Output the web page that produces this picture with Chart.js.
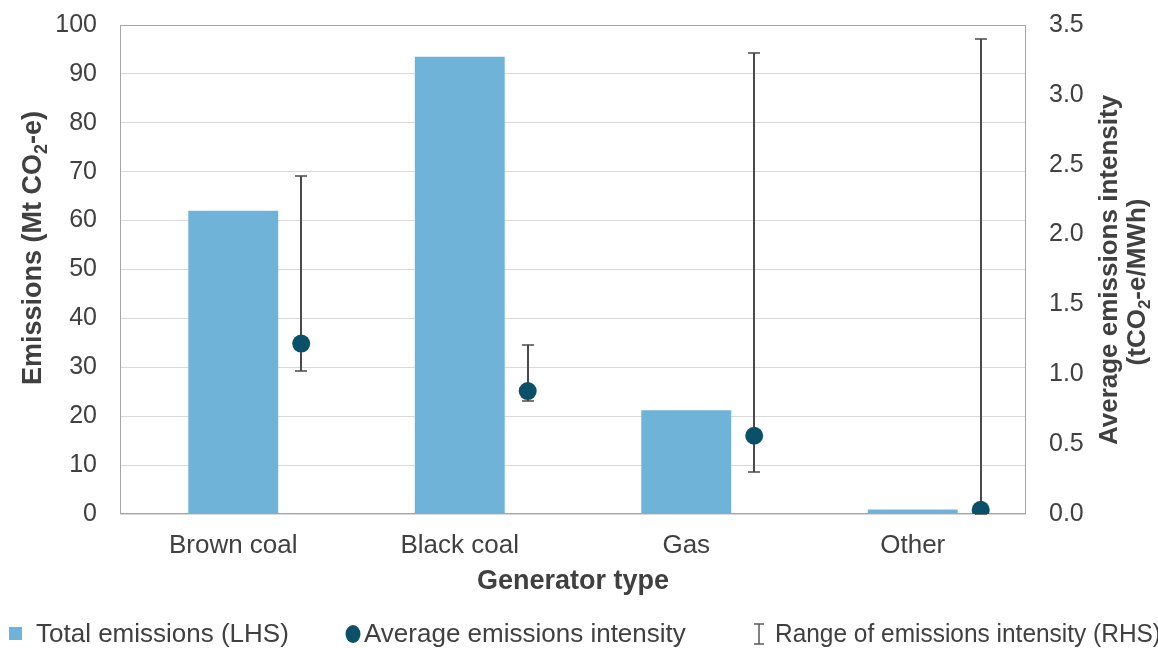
<!DOCTYPE html>
<html>
<head>
<meta charset="utf-8">
<script src="https://cdn.jsdelivr.net/npm/chart.js@4.4.0/dist/chart.umd.min.js"></script>
<style>
  html, body { margin: 0; padding: 0; background: #ffffff; }
  #wrap { width: 1158px; height: 648px; position: relative; }
</style>
</head>
<body>
<div id="wrap"><canvas id="chart" width="1158" height="648"></canvas></div>
<script>
// Generator categories and their values
const categories = ['Brown coal', 'Black coal', 'Gas', 'Other'];
const totalEmissions = [62.0, 93.5, 21.2, 0.9];      // Mt CO2-e, left axis
const avgIntensity = [1.22, 0.88, 0.56, 0.03];       // tCO2-e/MWh, right axis
const intensityLow = [1.02, 0.81, 0.30, 0.0];        // range minimum
const intensityHigh = [2.42, 1.21, 3.30, 3.40];      // range maximum

// Axis ranges
const leftAxis = { min: 0, max: 100, step: 10 };
const rightAxis = { min: 0, max: 3.5, step: 0.5 };

// Legend entries
const legendLabels = ['Total emissions (LHS)', 'Average emissions intensity', 'Range of emissions intensity (RHS)'];

const FONT = "'Liberation Sans', Arial, sans-serif";
const TEXT = '#404040';
const BAR_COLOR = '#70B3D9';
const POINT_COLOR = '#0A5068';
const pointOffset = 0.3; // intensity markers sit to the right of each bar

// Draws text with optional subscript segments, centred on (cx, cy), rotated by angle
function drawRich(ctx, parts, cx, cy, angle, size, weight) {
  ctx.save();
  ctx.translate(cx, cy);
  ctx.rotate(angle);
  ctx.fillStyle = TEXT;
  ctx.textBaseline = 'middle';
  ctx.textAlign = 'left';
  const subSize = Math.round(size * 0.65);
  let total = 0;
  parts.forEach(p => {
    ctx.font = `${weight} ${p.sub ? subSize : size}px ${FONT}`;
    total += ctx.measureText(p.t).width;
  });
  let x = -total / 2;
  parts.forEach(p => {
    ctx.font = `${weight} ${p.sub ? subSize : size}px ${FONT}`;
    ctx.fillText(p.t, x, p.sub ? size * 0.28 : 0);
    x += ctx.measureText(p.t).width;
  });
  ctx.restore();
}

// Keep the plot area fixed: no extra padding from tick label overhang
function fixVertical(width) {
  return s => { s.width = width; s.paddingTop = 0; s.paddingBottom = 0; };
}

// Plot frame drawn over the grid
const frame = {
  id: 'frame',
  beforeDatasetsDraw(chart) {
    const { ctx, chartArea: a } = chart;
    ctx.save();
    ctx.strokeStyle = '#A6A6A6';
    ctx.lineWidth = 1;
    ctx.strokeRect(Math.round(a.left) + 0.5, Math.round(a.top) + 0.5,
      Math.round(a.right - a.left) - 1, Math.round(a.bottom - a.top) - 1);
    ctx.restore();
  }
};

// Vertical range lines with caps, drawn just before the markers
const rangeBars = {
  id: 'rangeBars',
  beforeDatasetDraw(chart, args) {
    if (args.index !== 1) return;
    const xs = chart.scales.x2, ys = chart.scales.y2, ctx = chart.ctx;
    ctx.save();
    ctx.strokeStyle = '#4A4A4A';
    intensityLow.forEach((lo, i) => {
      const x = Math.round(xs.getPixelForValue(i + 1 + pointOffset));
      const yl = Math.round(ys.getPixelForValue(lo));
      const yh = Math.round(ys.getPixelForValue(intensityHigh[i]));
      ctx.lineWidth = 2;
      ctx.beginPath();
      ctx.moveTo(x, yl); ctx.lineTo(x, yh);
      ctx.stroke();
      ctx.lineWidth = 1.5;
      ctx.beginPath();
      ctx.moveTo(x - 6, yl); ctx.lineTo(x + 6, yl);
      ctx.moveTo(x - 6, yh); ctx.lineTo(x + 6, yh);
      ctx.stroke();
    });
    ctx.restore();
  }
};

// Axis titles and legend
const annotations = {
  id: 'annotations',
  afterDraw(chart) {
    const ctx = chart.ctx;
    const a = chart.chartArea;
    // left axis title
    drawRich(ctx, [{ t: 'Emissions (Mt CO' }, { t: '2', sub: true }, { t: '-e)' }],
      34, 248, -Math.PI / 2, 27, 'bold');
    // right axis title (two lines)
    drawRich(ctx, [{ t: 'Average emissions intensity' }], 1110, 270, -Math.PI / 2, 26, 'bold');
    drawRich(ctx, [{ t: '(tCO' }, { t: '2', sub: true }, { t: '-e/MWh)' }], 1138, 282, -Math.PI / 2, 26, 'bold');
    // x axis title
    drawRich(ctx, [{ t: 'Generator type' }], (a.left + a.right) / 2, 582, 0, 27, 'bold');

    // legend
    const ly = 634;
    ctx.save();
    ctx.font = `26px ${FONT}`;
    ctx.textBaseline = 'middle';
    ctx.textAlign = 'left';
    ctx.fillStyle = BAR_COLOR;
    ctx.fillRect(9, ly - 7, 13, 13);
    ctx.fillStyle = TEXT;
    ctx.fillText(legendLabels[0], 36, ly + 1);

    ctx.fillStyle = POINT_COLOR;
    ctx.beginPath();
    ctx.ellipse(353, ly, 7.5, 9, 0, 0, Math.PI * 2);
    ctx.fill();
    ctx.fillStyle = TEXT;
    ctx.fillText(legendLabels[1], 364, ly + 1);

    ctx.strokeStyle = '#595959';
    ctx.lineWidth = 1.5;
    ctx.beginPath();
    ctx.moveTo(759, ly - 10); ctx.lineTo(759, ly + 10);
    ctx.moveTo(754, ly - 10); ctx.lineTo(764, ly - 10);
    ctx.moveTo(754, ly + 10); ctx.lineTo(764, ly + 10);
    ctx.stroke();
    ctx.fillText(legendLabels[2], 775, ly + 1, 386);
    ctx.restore();
  }
};

const tickFont = { family: FONT, size: 25 };

new Chart(document.getElementById('chart'), {
  type: 'bar',
  data: {
    labels: categories,
    datasets: [
      {
        label: legendLabels[0],
        data: totalEmissions,
        backgroundColor: BAR_COLOR,
        xAxisID: 'x',
        yAxisID: 'y',
        grouped: false,
        categoryPercentage: 1.0,
        barPercentage: 0.397
      },
      {
        type: 'scatter',
        label: legendLabels[1],
        data: avgIntensity.map((v, i) => ({ x: i + 1 + pointOffset, y: v })),
        xAxisID: 'x2',
        yAxisID: 'y2',
        pointRadius: 9,
        pointBackgroundColor: POINT_COLOR,
        pointBorderWidth: 0,
        showLine: false
      }
    ]
  },
  options: {
    responsive: false,
    animation: false,
    devicePixelRatio: 1,
    layout: { padding: { left: 0, right: 0, top: 25, bottom: 0 } },
    plugins: { legend: { display: false }, tooltip: { enabled: false } },
    scales: {
      x: {
        type: 'category',
        offset: true,
        grid: { display: false, drawTicks: false },
        border: { display: false },
        ticks: { font: { family: FONT, size: 26 }, color: TEXT, padding: 16, maxRotation: 0 },
        afterFit: s => { s.height = 134; s.paddingLeft = 0; s.paddingRight = 0; }
      },
      x2: {
        type: 'linear',
        display: false,
        offset: false,
        min: 0.5,
        max: 4.5
      },
      y: {
        position: 'left',
        min: leftAxis.min,
        max: leftAxis.max,
        ticks: { stepSize: leftAxis.step, font: tickFont, color: TEXT, padding: 23 },
        grid: { color: '#D9D9D9', lineWidth: 1, drawTicks: false },
        border: { display: false },
        afterFit: fixVertical(120)
      },
      y2: {
        position: 'right',
        min: rightAxis.min,
        max: rightAxis.max,
        ticks: {
          stepSize: rightAxis.step, font: tickFont, color: TEXT, padding: 23,
          callback: v => Number(v).toFixed(1)
        },
        grid: { display: false, drawTicks: false },
        border: { display: false },
        afterFit: fixVertical(132)
      }
    }
  },
  plugins: [frame, rangeBars, annotations]
});
</script>
</body>
</html>
